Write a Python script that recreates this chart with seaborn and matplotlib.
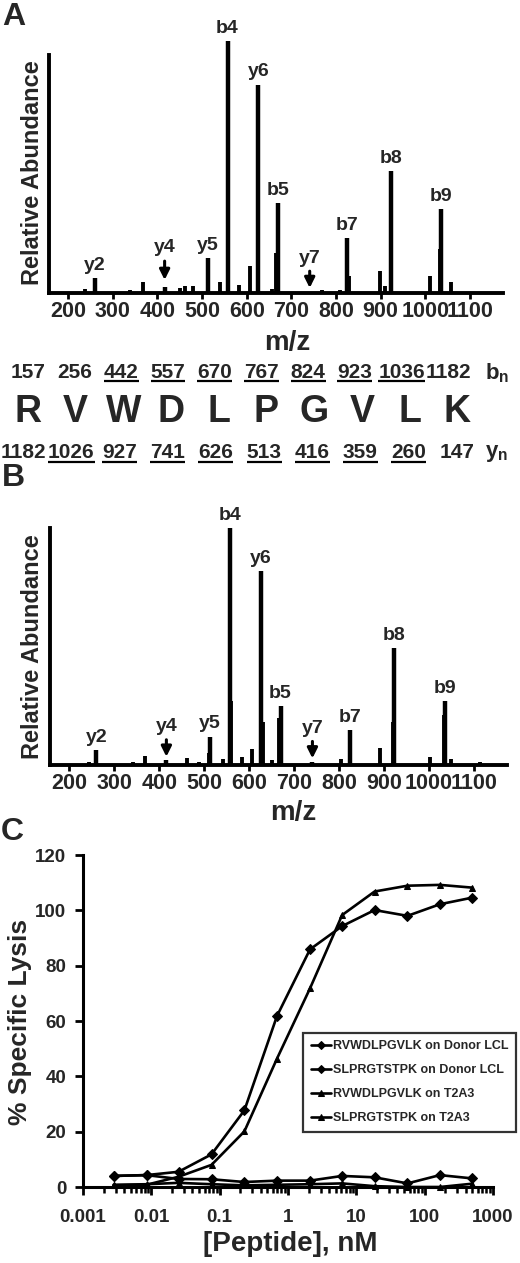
import numpy as np
import pandas as pd
import matplotlib.pyplot as plt
import seaborn as sns

sns.set_theme(style="ticks")
plt.rcParams["font.family"] = ["Liberation Sans", "DejaVu Sans"]
plt.rcParams["font.weight"] = "bold"
plt.rcParams["mathtext.fontset"] = "custom"
plt.rcParams["mathtext.rm"] = "Liberation Sans:bold"
plt.rcParams["mathtext.bf"] = "Liberation Sans:bold"
plt.rcParams["axes.labelweight"] = "bold"

# ---- panel A / B spectra ----
ion_labels = ["y2", "y4", "y5", "b4", "y6", "b5", "y7", "b7", "b8", "b9"]
ion_mz = [260, 416, 513, 557, 626, 670, 741, 824, 923, 1036]
ion_int_a = [6.0, 2.4, 13.9, 100, 82.8, 35.8, 0.5, 21.9, 48.3, 33.4]
ion_int_b = [6.3, 2.1, 12.0, 100, 81.7, 24.9, 1.1, 14.8, 49.3, 26.8]

other_mz_a = [237, 338, 367, 450, 461, 479, 540, 583, 607, 656, 665, 768, 809, 828, 898, 909, 1010, 1032, 1057]
other_int_a = [1.6, 1.3, 4.2, 2.0, 2.6, 2.9, 4.2, 3.2, 10.6, 1.6, 16.0, 1.3, 1.3, 6.6, 8.6, 2.6, 6.9, 17.5, 4.2]
other_mz_b = [243, 341, 368, 462, 488, 510, 541, 560, 584, 606, 630, 652, 666, 804, 892, 920, 1003, 1034, 1050, 1115]
other_int_b = [1.4, 1.1, 3.8, 3.1, 1.1, 4.9, 2.4, 27.0, 3.5, 6.9, 18.0, 2.1, 20.0, 2.5, 7.2, 18.0, 3.2, 21.0, 2.4, 1.1]

# arrow label heights for y4 / y7 (label centre, arrow tip)
arrow_a = {"y4": (17.9, 5.2), "y7": (13.9, 2.0)}
arrow_b = {"y4": (16.2, 3.5), "y7": (15.5, 2.8)}

# ---- sequence table ----
residues = ["R", "V", "W", "D", "L", "P", "G", "V", "L", "K"]
b_ions = ["157", "256", "442", "557", "670", "767", "824", "923", "1036", "1182"]
y_ions = ["1182", "1026", "927", "741", "626", "513", "416", "359", "260", "147"]
b_seen = [False, False, True, True, True, True, True, True, True, False]
y_seen = [False, True, True, True, True, True, True, True, True, False]

# ---- panel C ----
conc = [0.0028, 0.0085, 0.025, 0.076, 0.23, 0.69, 2.1, 6.2, 18.5, 56, 167, 500]
rvw_lcl = [4.0, 4.3, 5.5, 11.8, 27.7, 61.8, 85.9, 94.3, 100.1, 98.0, 102.2, 104.6]
slp_lcl = [4.0, 4.3, 2.9, 2.8, 1.8, 2.3, 2.3, 4.0, 3.5, 1.3, 4.3, 3.1]
rvw_t2 = [0.6, 0.8, 3.7, 8.0, 20.1, 46.4, 71.8, 98.3, 106.8, 108.9, 109.2, 108.2]
slp_t2 = [0.8, 1.0, 1.5, 1.0, 0.6, 0.8, 1.0, 1.3, 0.3, 0.0, 0.0, 1.2]
series_names = ["RVWDLPGVLK on Donor LCL", "SLPRGTSTPK on Donor LCL",
                "RVWDLPGVLK on T2A3", "SLPRGTSTPK on T2A3"]

W, H = 520, 1263
fig = plt.figure(figsize=(W / 100, H / 100), dpi=100)

# overlay in pixel coordinates for panel letters and the sequence table
ov = fig.add_axes([0, 0, 1, 1], zorder=0)
ov.set_xlim(0, W)
ov.set_ylim(H, 0)
ov.axis("off")


def spectrum(rect, ints, other_mz, other_int, arrows, spine_top, ytop, lab_xy, mz_xy):
    ax = fig.add_axes(rect, zorder=1)
    ax.patch.set_alpha(0)
    ax.vlines(other_mz, 0, other_int, color="black", lw=2.8)
    ax.vlines(ion_mz, 0, ints, color="black", lw=3.2)
    for lbl, mz, h in zip(ion_labels, ion_mz, ints):
        if lbl in arrows:
            ty, tip = arrows[lbl]
            ax.annotate(lbl, xy=(mz, tip), xytext=(mz, ty), ha="center", va="center",
                        fontsize=14, fontweight="bold",
                        arrowprops=dict(arrowstyle="-|>", color="black", lw=2.2,
                                        mutation_scale=15, shrinkA=1, shrinkB=0))
        else:
            ax.annotate(lbl, xy=(mz, h), xytext=(0, 3), textcoords="offset points",
                        ha="center", va="bottom", fontsize=14, fontweight="bold",
                        annotation_clip=False)
    ax.set_xlim(157, 1174)
    ax.set_ylim(0, ytop)
    ax.set_xticks(range(200, 1101, 100))
    ax.set_yticks([])
    sns.despine(ax=ax, top=True, right=True)
    ax.spines["left"].set_bounds(0, spine_top)
    for s in ("left", "bottom"):
        ax.spines[s].set_linewidth(2.8)
        ax.spines[s].set_color("black")
    ax.tick_params(axis="x", direction="out", length=4, width=2, pad=2,
                   labelsize=15.5, color="black")
    for t in ax.get_xticklabels():
        t.set_fontweight("bold")
    ax.set_ylabel("Relative Abundance", fontsize=17, fontweight="bold", va="center")
    ax.yaxis.set_label_coords(*lab_xy)
    ax.set_xlabel("m/z", fontsize=20, fontweight="bold", va="center")
    ax.xaxis.set_label_coords(*mz_xy)
    return ax


ax_a = spectrum([49 / W, 1 - 293 / H, 454 / W, 273 / H], ion_int_a, other_mz_a, other_int_a,
                arrow_a, 94.7, 108.5, (-0.037, 0.44), (0.524, -0.182))
ax_b = spectrum([50 / W, 1 - 765 / H, 457 / W, 260 / H], ion_int_b, other_mz_b, other_int_b,
                arrow_b, 100, 109.7, (-0.039, 0.454), (0.532, -0.185))

# panel letters
for letter, (x, y) in zip("ABC", [(14, 17), (13, 478), (12, 832)]):
    ov.text(x, y, letter, fontsize=23, fontweight="bold", ha="center", va="center")

# sequence table
tb, ty = [], []
for i in range(10):
    tb.append(ov.text(28 + 46.7 * i, 372, b_ions[i], fontsize=15, fontweight="bold",
                      ha="center", va="center"))
    ov.text(28 + 47.7 * i, 412, residues[i], fontsize=27, fontweight="bold", ha="center", va="center")
    ty.append(ov.text(23 + 48.2 * i, 453, y_ions[i], fontsize=15, fontweight="bold",
                      ha="center", va="center"))
ov.text(497, 373, r"$\mathbf{b_n}$", fontsize=16, ha="center", va="center")
ov.text(497, 454, r"$\mathbf{y_n}$", fontsize=16, ha="center", va="center")

# panel C
ax_c = fig.add_axes([83 / W, 1 - 1187 / H, 410 / W, 332 / H], zorder=1)
ax_c.patch.set_alpha(0)
df = pd.DataFrame({
    "conc": conc * 4,
    "lysis": rvw_lcl + slp_lcl + rvw_t2 + slp_t2,
    "series": np.repeat(series_names, len(conc)),
})
sns.lineplot(data=df, x="conc", y="lysis", hue="series", style="series",
             hue_order=series_names, style_order=series_names,
             palette=["black"] * 4, markers=["D", "D", "^", "^"], dashes=False,
             markersize=5, markeredgecolor="black", linewidth=1.9, sort=False,
             ax=ax_c, clip_on=False)
ax_c.set_xscale("log")
ax_c.set_xlim(0.001, 1000)
ax_c.set_ylim(0, 120)
ax_c.set_yticks(range(0, 121, 20))
sns.despine(ax=ax_c)
for s in ("left", "bottom"):
    ax_c.spines[s].set_linewidth(2.2)
    ax_c.spines[s].set_color("black")
ax_c.tick_params(axis="y", direction="out", length=6, width=2, pad=6, labelsize=13.5, color="black")
ax_c.tick_params(axis="x", which="major", direction="out", length=6, width=2, pad=10,
                 labelsize=13.5, color="black")
ax_c.tick_params(axis="x", which="minor", direction="out", length=4.5, width=1.8, color="black")
ax_c.set_xticks([0.001, 0.01, 0.1, 1, 10, 100, 1000])
ax_c.set_xticklabels(["0.001", "0.01", "0.1", "1", "10", "100", "1000"])
for t in ax_c.get_xticklabels() + ax_c.get_yticklabels():
    t.set_fontweight("bold")
ax_c.set_ylabel("% Specific Lysis", fontsize=19, fontweight="bold", va="center")
ax_c.yaxis.set_label_coords(-0.154, 0.497)
ax_c.set_xlabel("[Peptide], nM", fontsize=20, fontweight="bold", va="center")
ax_c.xaxis.set_label_coords(0.505, -0.172)
handles, labels = ax_c.get_legend_handles_labels()
leg = ax_c.legend(handles, labels, loc="upper left", bbox_to_anchor=(0.537, 0.464),
                  prop={"size": 9, "weight": "bold"}, frameon=True, fancybox=False,
                  edgecolor="black", handlelength=1.6, handletextpad=0.15,
                  labelspacing=0.95, borderpad=0.6, borderaxespad=0, markerscale=0.8)
leg.get_frame().set_linewidth(1.6)

# underline the observed fragment masses
fig.canvas.draw()
rend = fig.canvas.get_renderer()
inv = ov.transData.inverted()
for texts, seen in ((tb, b_seen), (ty, y_seen)):
    for t, s in zip(texts, seen):
        if not s:
            continue
        bb = t.get_window_extent(rend)
        (x0, y0), (x1, _) = inv.transform([(bb.x0, bb.y0 + 1), (bb.x1, bb.y0 + 1)])
        ov.plot([x0, x1], [y0, y0], color="black", lw=1.6, solid_capstyle="butt")

fig.savefig("out.png", dpi=100)
